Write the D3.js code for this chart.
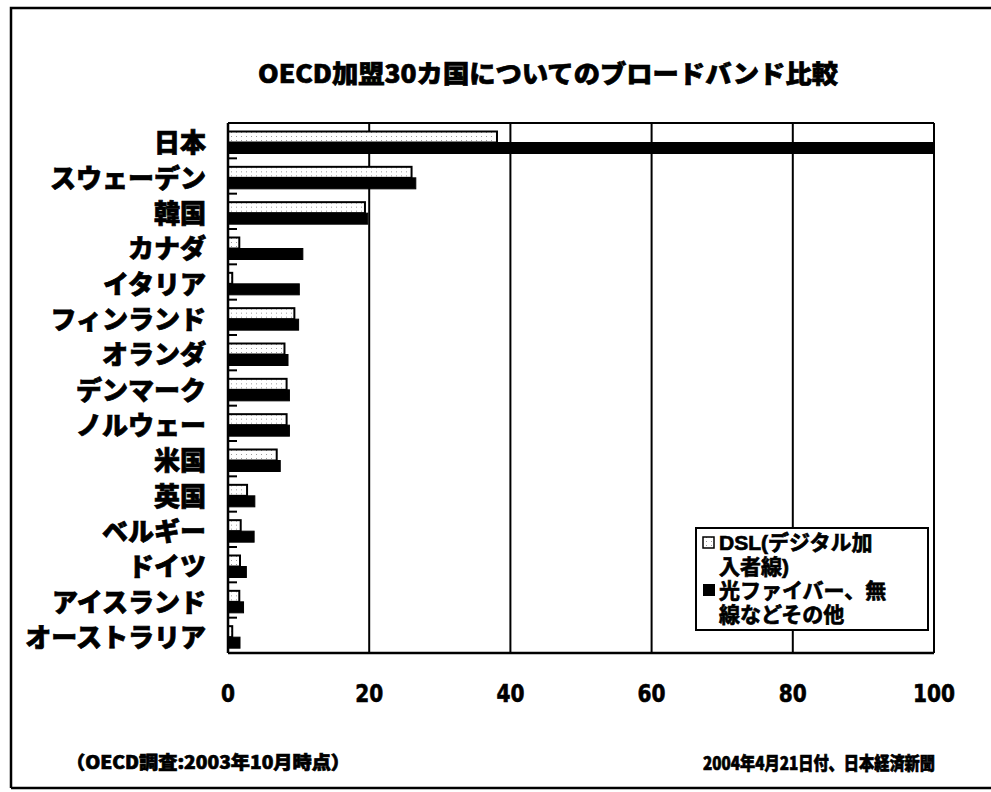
<!DOCTYPE html>
<html>
<head>
<meta charset="utf-8">
<script src="https://cdn.jsdelivr.net/npm/d3@7/dist/d3.min.js"></script>
<style>
  html, body { margin: 0; padding: 0; background: #fff; }
  svg { display: block; }
  .jp { font-family: "Noto Sans CJK JP", "Noto Sans", sans-serif; font-weight: 900; fill: #000; }
  .lgjp { font-family: "Liberation Sans", "Noto Sans CJK JP", sans-serif; font-weight: bold; fill: #000; }
  .heavy { stroke: #000; stroke-width: 0.7px; }
  .num { font-family: "Liberation Sans Narrow", "DejaVu Sans Condensed", "Liberation Sans", sans-serif; font-weight: bold; fill: #000; stroke: #000; stroke-width: 0.6px; }
</style>
</head>
<body>
<script>
// Broadband subscribers per country (OECD, Oct 2003)
const countries = ["日本", "スウェーデン", "韓国", "カナダ", "イタリア", "フィンランド", "オランダ",
  "デンマーク", "ノルウェー", "米国", "英国", "ベルギー", "ドイツ", "アイスランド", "オーストラリア"];
const dslValues = [38.1, 26.0, 19.4, 1.6, 0.6, 9.4, 8.0, 8.3, 8.3, 6.9, 2.7, 1.8, 1.7, 1.6, 0.6];
const otherValues = [100, 26.6, 19.8, 10.6, 10.1, 10.0, 8.5, 8.7, 8.7, 7.4, 3.8, 3.7, 2.6, 2.2, 1.7];
const seriesNames = ["DSL", "other"];
const xTicks = [0, 20, 40, 60, 80, 100];
const legendLines = ["DSL(デジタル加", "入者線)", "光ファイバー、無", "線などその他"];

const W = 991, H = 792;
const svg = d3.select("body").append("svg").attr("width", W).attr("height", H);

// light stipple for the DSL bars
const defs = svg.append("defs");
const pat = defs.append("pattern").attr("id", "dots").attr("patternUnits", "userSpaceOnUse")
  .attr("width", 5).attr("height", 4);
pat.append("rect").attr("width", 5).attr("height", 4).attr("fill", "#fff");
pat.append("rect").attr("x", 1).attr("y", 1).attr("width", 1).attr("height", 1).attr("fill", "#9a9a9a");

// outer frame
svg.append("path").attr("d", "M11,788 L11,8 L1000,8 M11,788 L1000,788")
  .attr("fill", "none").attr("stroke", "#000").attr("stroke-width", 2.5);

// title
svg.append("text").attr("class", "jp heavy").attr("x", 548).attr("y", 72)
  .attr("text-anchor", "middle").attr("dominant-baseline", "central")
  .attr("font-size", 25).attr("textLength", 580).attr("lengthAdjust", "spacingAndGlyphs")
  .text("OECD加盟30カ国についてのブロードバンド比較");

const x = d3.scaleLinear().domain([0, 100]).range([228, 934]);
const y = d3.scaleBand().domain(countries).range([123, 653]).padding(0);
const ySub = d3.scaleBand().domain(seriesNames).range([8.5, 30.5]).padding(0);

const plot = svg.append("g");

// vertical gridlines
plot.selectAll("line.grid").data(xTicks.slice(1)).join("line").attr("class", "grid")
  .attr("x1", d => x(d)).attr("x2", d => x(d))
  .attr("y1", y.range()[0]).attr("y2", y.range()[1])
  .attr("stroke", "#000").attr("stroke-width", 2);

// top border
plot.append("line").attr("x1", x(0)).attr("x2", x(100)).attr("y1", 123).attr("y2", 123)
  .attr("stroke", "#000").attr("stroke-width", 2);

// bars
const groups = plot.selectAll("g.cat").data(countries).join("g").attr("class", "cat")
  .attr("transform", d => `translate(0,${y(d)})`);

groups.append("rect")
  .attr("x", x(0)).attr("y", ySub("DSL"))
  .attr("width", (d, i) => x(Math.min(dslValues[i], 100)) - x(0))
  .attr("height", ySub.bandwidth())
  .attr("fill", "url(#dots)").attr("stroke", "#000").attr("stroke-width", 2);

groups.append("rect")
  .attr("x", x(0)).attr("y", ySub("other"))
  .attr("width", (d, i) => x(Math.min(otherValues[i], 100)) - x(0))
  .attr("height", ySub.bandwidth())
  .attr("fill", "#000").attr("stroke", "#000").attr("stroke-width", 1);

// axes lines
plot.append("line").attr("x1", x(0)).attr("x2", x(0)).attr("y1", 123).attr("y2", 653)
  .attr("stroke", "#000").attr("stroke-width", 2.5);
plot.append("line").attr("x1", x(0)).attr("x2", x(100)).attr("y1", 653).attr("y2", 653)
  .attr("stroke", "#000").attr("stroke-width", 2.5);

// category boundary ticks
const bounds = countries.map(c => y(c)).concat([y.range()[1]]);
plot.selectAll("line.tick").data(bounds).join("line").attr("class", "tick")
  .attr("x1", x(0)).attr("x2", x(0) + 9)
  .attr("y1", d => d).attr("y2", d => d)
  .attr("stroke", "#000").attr("stroke-width", 2);

// category labels
svg.selectAll("text.cat").data(countries).join("text").attr("class", "jp heavy cat")
  .attr("x", 206).attr("y", d => y(d) + y.bandwidth() / 2)
  .attr("text-anchor", "end").attr("dominant-baseline", "central")
  .attr("font-size", 26).text(d => d);

// x tick labels (narrow digits)
svg.selectAll("text.xt").data(xTicks).join("text").attr("class", "num xt")
  .attr("x", d => x(d)).attr("y", 702)
  .attr("text-anchor", "middle").attr("font-size", 25)
  .attr("textLength", d => String(d).length * 14).attr("lengthAdjust", "spacingAndGlyphs")
  .text(d => d);

// legend
const lg = svg.append("g");
lg.append("rect").attr("x", 696).attr("y", 528).attr("width", 232).attr("height", 102)
  .attr("fill", "#fff").attr("stroke", "#000").attr("stroke-width", 2);
lg.append("rect").attr("x", 703).attr("y", 537).attr("width", 11).attr("height", 11)
  .attr("fill", "url(#dots)").attr("stroke", "#000").attr("stroke-width", 1.5);
lg.append("rect").attr("x", 703).attr("y", 584).attr("width", 12).attr("height", 12)
  .attr("fill", "#000");
const lineY = [550, 574, 598, 622];
legendLines.forEach((t, i) => {
  lg.append("text").attr("class", "lgjp heavy").attr("font-size", 21)
    .attr("x", 719).attr("y", lineY[i]).text(t);
});

// footer
svg.append("text").attr("class", "jp heavy").attr("x", 66).attr("y", 761)
  .attr("dominant-baseline", "central").attr("font-size", 18)
  .attr("textLength", 284).attr("lengthAdjust", "spacingAndGlyphs")
  .text("（OECD調査:2003年10月時点）");
svg.append("text").attr("class", "jp heavy").attr("x", 703).attr("y", 762)
  .attr("dominant-baseline", "central").attr("font-size", 18)
  .attr("textLength", 232).attr("lengthAdjust", "spacingAndGlyphs")
  .text("2004年4月21日付、日本経済新聞");
</script>
</body>
</html>
